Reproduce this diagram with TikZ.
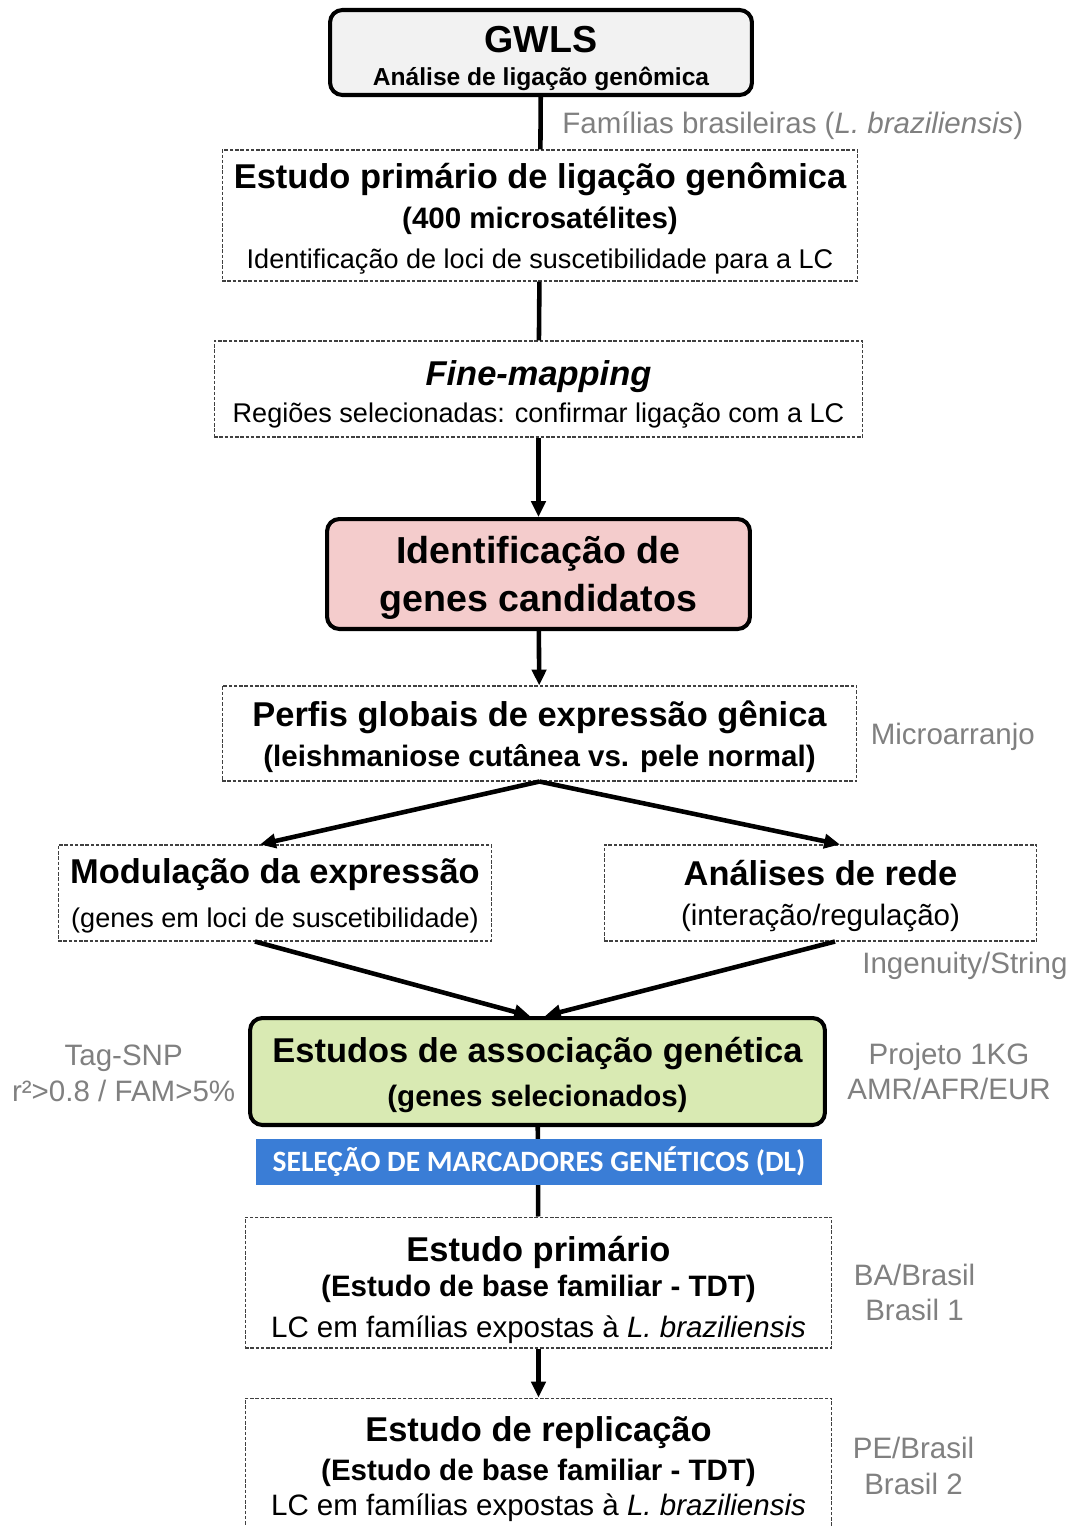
\documentclass[tikz,border=0pt]{standalone}
\usepackage{fontspec}
\setmainfont{Liberation Sans}
\newfontfamily\barfont{Carlito}
\usetikzlibrary{positioning, arrows.meta}
\definecolor{pinkfill}{RGB}{244,204,204}
\definecolor{greenfill}{RGB}{217,234,179}
\definecolor{barblue}{RGB}{58,125,214}
\definecolor{notegray}{RGB}{128,128,128}
\definecolor{gwlsfill}{RGB}{242,242,242}
\newcommand{\bigt}{\fontsize{19.6}{22}\selectfont\bfseries}
\newcommand{\midt}{\fontsize{16.8}{22}\selectfont\bfseries}
\newcommand{\midr}{\fontsize{16.8}{22}\selectfont}
\newcommand{\smr}{\fontsize{15.4}{22}\selectfont}
\newcommand{\boxtop}[1]{\rule{0pt}{#1}}
\tikzset{
  >={Triangle[length=9pt,width=8pt]},
  dashbox/.style={draw=black!75, dash pattern=on 2pt off 1pt, line width=0.6pt,
    align=center, inner sep=0pt, text depth=0pt, font=\fontsize{16}{22}\selectfont},
  roundbox/.style={draw, rounded corners=7pt, line width=2.3pt,
    align=center, inner sep=0pt, text depth=0pt, font=\fontsize{16}{22}\selectfont},
  link/.style={line width=2.6pt},
  note/.style={text=notegray, font=\fontsize{16.8}{20.4}\selectfont, align=center, inner sep=0pt},
}
\begin{document}
\begin{tikzpicture}[x=0.02cm, y=-0.02cm]
  \useasboundingbox (0,0) rectangle (1075,1526);
  \clip (0,0) rectangle (1075,1526);

  % boxes
  \node[roundbox, fill=gwlsfill, minimum width=8.44cm, minimum height=1.70cm] (gwls) at (541,52.5)
    {{\fontsize{21.4}{22}\selectfont\bfseries\boxtop{19pt}GWLS}\\[-3.3pt]{\fontsize{14}{22}\selectfont\bfseries Análise de ligação genômica}};
  \node[dashbox, minimum width=12.72cm, minimum height=2.62cm] (prim) at (540,215.5)
    {{\bigt Estudo primário de ligação genômica}\\[1.3pt]{\midt (400 microsatélites)}\\[0.6pt]{\smr Identificação de loci de suscetibilidade para a LC}};
  \node[dashbox, minimum width=12.98cm, minimum height=1.92cm] (fine) at (538.5,389)
    {{\bigt\itshape\boxtop{17.3pt}Fine-mapping}\\[-1pt]{\smr Regiões selecionadas: confirmar ligação com a LC}};
  \node[roundbox, fill=pinkfill, minimum width=8.46cm, minimum height=2.2cm] (cand) at (538.5,574)
    {{\fontsize{21.4}{22}\selectfont\bfseries Identificação de}\\[5pt]{\fontsize{21.4}{22}\selectfont\bfseries genes candidatos}};
  \node[dashbox, minimum width=12.7cm, minimum height=1.9cm] (perf) at (539.5,733.5)
    {{\bigt Perfis globais de expressão gênica}\\[1pt]{\midt (leishmaniose cutânea vs. pele normal)}};
  \node[dashbox, minimum width=8.68cm, minimum height=1.92cm] (modu) at (275,893)
    {{\bigt Modulação da expressão}\\[3pt]{\smr (genes em loci de suscetibilidade)}};
  \node[dashbox, minimum width=8.66cm, minimum height=1.92cm] (rede) at (820.5,893)
    {{\bigt Análises de rede}\\[0.7pt]{\midr (interação/regulação)}};
  \node[roundbox, fill=greenfill, minimum width=11.5cm, minimum height=2.14cm] (assoc) at (537.5,1071.5)
    {{\bigt Estudos de associação genética}\\[3pt]{\midt (genes selecionados)}};
  \node[dashbox, minimum width=11.74cm, minimum height=2.62cm] (tdt) at (538.5,1282.5)
    {{\bigt\boxtop{19pt}Estudo primário}\\[-2pt]{\midt (Estudo de base familiar - TDT)}\\[1.4pt]{\midr LC em famílias expostas à \textit{L. braziliensis}}};
  \node[dashbox, minimum width=11.74cm, minimum height=2.84cm, text depth=3.5pt] (repl) at (538.5,1469)
    {{\bigt Estudo de replicação}\\[0.7pt]{\midt (Estudo de base familiar - TDT)}\\[-2.2pt]{\midr LC em famílias expostas à \textit{L. braziliensis}}};

  % connectors
  \draw[link] (gwls) -- (prim);
  \draw[link] (prim) -- (fine);
  \draw[link, ->] (fine) -- (cand);
  \draw[link, ->] (cand) -- (perf);
  \draw[link, ->] (perf.south) -- ([xshift=-0.3cm]modu.north);
  \draw[link, ->] (perf.south) -- ([xshift=0.39cm]rede.north);
  \draw[link, ->] ([xshift=-0.4cm]modu.south) -- ([xshift=-0.15cm]assoc.north);
  \draw[link, ->] ([xshift=0.29cm]rede.south) -- ([xshift=0.15cm]assoc.north);
  \draw[link] (assoc) -- (tdt);
  \draw[link, ->] (tdt) -- (repl);

  % marker bar
  \node[fill=barblue, text=white, minimum width=11.32cm, minimum height=0.92cm, inner sep=0pt,
    font=\barfont\bfseries\fontsize{16.8}{20}\selectfont] (dl) at (539,1162)
    {SELEÇÃO DE MARCADORES GENÉTICOS (DL)};

  % side notes
  \node[note, anchor=west] (fam) at (562,126) {Famílias brasileiras (\textit{L. braziliensis})};
  \node[note, right=0.26cm of perf, yshift=-0.06cm] (micro) {Microarranjo};
  \node[note, anchor=west] (ingen) at (862,966) {Ingenuity/String};
  \node[note, left=0.25cm of assoc, yshift=-0.04cm] (tag) {Tag-SNP\\r²>0.8 / FAM>5\%};
  \node[note, right=0.4cm of assoc] (kg) {Projeto 1KG\\AMR/AFR/EUR};
  \node[note, right=0.42cm of tdt, yshift=-0.2cm] (ba) {BA/Brasil\\Brasil 1};
  \node[note, right=0.4cm of repl, yshift=0.06cm] (pe) {PE/Brasil\\Brasil 2};
\end{tikzpicture}
\end{document}
